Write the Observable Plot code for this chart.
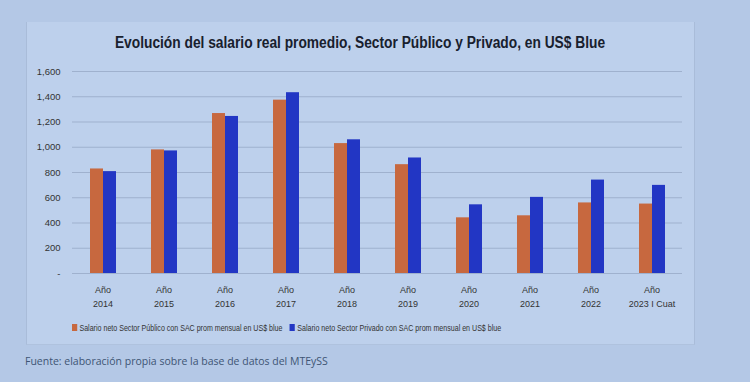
<!DOCTYPE html>
<html><head><meta charset="utf-8">
<script src="https://cdn.jsdelivr.net/npm/d3@7"></script>
<script src="https://cdn.jsdelivr.net/npm/@observablehq/plot@0.6"></script>
<style>
body{margin:0;width:750px;height:382px;overflow:hidden;background:#b4c8e6;font-family:"Liberation Sans Narrow","Liberation Sans",sans-serif;}
#page{position:relative;width:750px;height:382px;}
#box{position:absolute;left:26px;top:22px;width:667px;height:322px;background:#bdd0ec;border-left:1px solid #a9bcd9;border-right:1px solid #a9bcd9;border-bottom:1px solid #afc2de;}
#title{position:absolute;left:0;top:34px;width:720px;text-align:center;font-weight:bold;font-size:16px;color:#18202e;white-space:nowrap;transform:scaleX(0.86);transform-origin:360px 0;}
#chart{position:absolute;left:0;top:60px;}
#legend{position:absolute;left:72px;top:322px;font-size:9.5px;color:#333;white-space:nowrap;transform:scaleX(0.745);transform-origin:0 0;}
#legend span.sw{display:inline-block;width:7px;height:7px;margin-right:3px;vertical-align:0px;}
#legend span.item{margin-right:10px;}
#note{position:absolute;left:25px;top:354px;font-family:"Open Sans";font-size:10.5px;color:#3e5574;white-space:nowrap;}
</style>
</head><body>
<div id="page">
<div id="box"></div>
<div id="title">Evolución del salario real promedio, Sector Público y Privado, en US$ Blue</div>
<div id="chart"></div>
<div id="legend"></div>
<div id="note">Fuente: elaboración propia sobre la base de datos del MTEySS</div>
</div>
<script>
const years = ["2014","2015","2016","2017","2018","2019","2020","2021","2022","2023"];
const yearLabels = ["Año\n2014","Año\n2015","Año\n2016","Año\n2017","Año\n2018","Año\n2019","Año\n2020","Año\n2021","Año\n2022","Año\n2023 I Cuat"];
const seriesNames = ["Salario neto Sector Público con SAC prom mensual en US$ blue","Salario neto Sector Privado con SAC prom mensual en US$ blue"];
const publico = [828, 979, 1267, 1373, 1029, 862, 441, 457, 559, 550];
const privado = [807, 971, 1244, 1432, 1059, 915, 544, 603, 740, 698];
const yTicks = [0, 200, 400, 600, 800, 1000, 1200, 1400, 1600];
const colors = ["#c7683f", "#2236c4"];

const rows = years.flatMap((y, i) => [
  {year: y, serie: seriesNames[0], value: publico[i]},
  {year: y, serie: seriesNames[1], value: privado[i]}
]);

const chart = Plot.plot({
  width: 750, height: 260,
  marginLeft: 72, marginRight: 68, marginTop: 11, marginBottom: 47,
  style: {background: "transparent", fontFamily: "'Liberation Sans Narrow','Liberation Sans',sans-serif", color: "#333"},
  fx: {domain: years, padding: 0, label: null},
  x: {domain: seriesNames, paddingInner: 0, paddingOuter: 1.18, axis: null},
  y: {domain: [0, 1600], label: null},
  color: {domain: seriesNames, range: colors},
  marks: [
    Plot.ruleY(yTicks, {stroke: "#9fb1ce", strokeWidth: 1}),
    Plot.barY(rows, {fx: "year", x: "serie", y: "value", fill: "serie"}),
    Plot.axisY({ticks: yTicks, tickFormat: d => d === 0 ? "-" : d3.format(",")(d), tickSize: 0, tickPadding: 12, fontSize: 9.5, label: null, fill: "#333"}),
    Plot.axisFx({anchor: "bottom", tickFormat: d => yearLabels[years.indexOf(d)], tickSize: 0, tickPadding: 10, fontSize: 9, lineHeight: 1.5, label: null, fill: "#333"})
  ]
});
document.getElementById("chart").appendChild(chart);

const legend = document.getElementById("legend");
seriesNames.forEach((name, i) => {
  const item = document.createElement("span");
  item.className = "item";
  const sw = document.createElement("span");
  sw.className = "sw";
  sw.style.background = colors[i];
  item.appendChild(sw);
  item.appendChild(document.createTextNode(name));
  legend.appendChild(item);
});
</script>
</body></html>
